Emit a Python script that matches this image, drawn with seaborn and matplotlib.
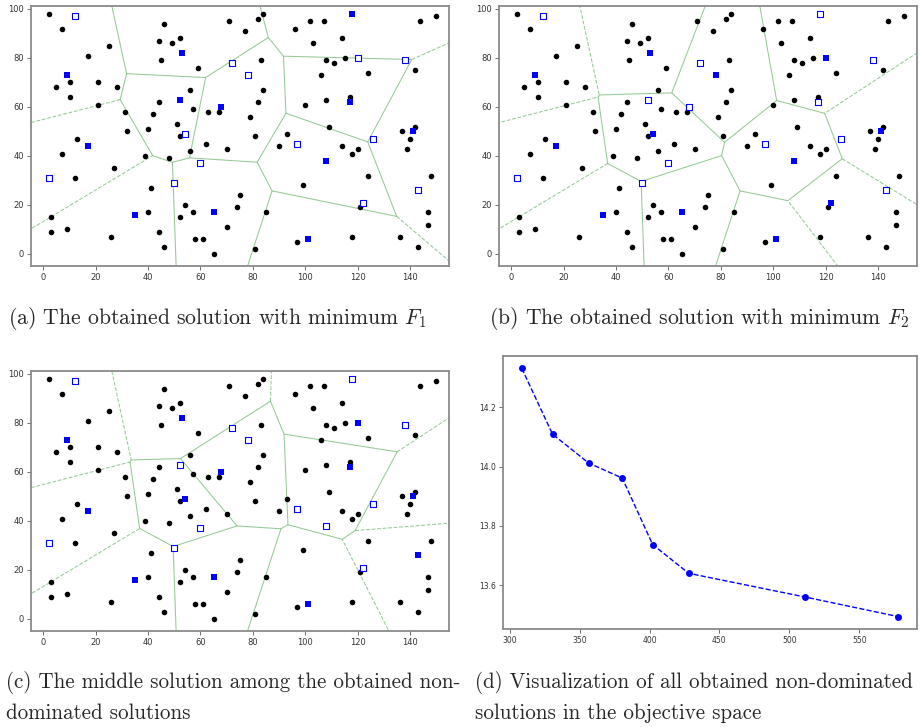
import numpy as np
import pandas as pd
import matplotlib
matplotlib.use("Agg")
import matplotlib.pyplot as plt
from matplotlib.collections import LineCollection
import seaborn as sns

# ---------------- data ----------------
cust_x = [2, 7, 25, 46, 44, 49, 52, 45, 59, 17,
          5, 10, 10, 21, 28, 21, 31, 32, 13, 7,
          27, 12, 3, 3, 9, 26, 44, 42, 40, 51,
          52, 56, 57, 56, 39, 48, 41, 40, 54, 57,
          52, 44, 46, 58, 61, 65, 63, 67, 62, 70,
          70, 71,
          82, 84, 77, 96, 102, 107, 103, 114, 144, 150,
          83, 108, 111, 115, 106, 124, 142, 84, 82, 79,
          100, 108, 117, 109, 81, 93, 90, 114, 120, 118,
          124, 99, 75, 74, 85, 121, 137, 142, 140, 139,
          148, 147, 147, 97, 118, 136, 143, 81]
cust_y = [98, 92, 85, 94, 87, 86, 88, 79, 76, 81,
          68, 70, 64, 70, 68, 61, 58, 50, 47, 41,
          35, 31, 15, 9, 10, 7, 62, 57, 51, 53,
          48, 67, 59, 42, 40, 39, 27, 17, 20, 17,
          15, 9, 3, 6, 6, 0, 58, 58, 45, 43,
          11, 95,
          96, 98, 91, 92, 95, 95, 86, 88, 95, 97,
          79, 79, 78, 80, 73, 74, 75, 67, 62, 56,
          61, 63, 64, 52, 48, 49, 44, 44, 43, 41,
          32, 28, 24, 19, 17, 19, 50, 52, 47, 43,
          32, 17, 12, 5, 7, 7, 3, 2]

fac_x = [53, 9, 52, 68, 17, 35, 65, 118, 117, 108, 141, 101,
         12, 2, 50, 54, 60, 72, 78, 120, 138, 97, 126, 143, 122]
fac_y = [82, 73, 63, 60, 44, 16, 17, 98, 62, 38, 50, 6,
         97, 31, 29, 49, 37, 78, 73, 80, 79, 45, 47, 26, 21]

# 1 = opened facility (filled square), 0 = closed (hollow square)
open_a = [1, 1, 1, 1, 1, 1, 1, 1, 1, 1, 1, 1,
          0, 0, 0, 0, 0, 0, 0, 0, 0, 0, 0, 0, 0]
open_b = [1, 1, 0, 0, 1, 1, 1, 0, 0, 1, 1, 1,
          0, 0, 0, 1, 0, 0, 1, 1, 0, 0, 0, 0, 1]
open_c = [1, 1, 0, 1, 1, 1, 1, 0, 1, 0, 1, 1,
          0, 0, 0, 1, 0, 0, 0, 1, 0, 0, 0, 1, 0]

f1_vals = [308.6, 330.6, 356.4, 380.5, 402.2, 428.0, 511.3, 577.9]
f2_vals = [14.331, 14.109, 14.012, 13.961, 13.737, 13.640, 13.560, 13.494]

captions = [
    [r"(a) The obtained solution with minimum $F_1$"],
    [r"(b) The obtained solution with minimum $F_2$"],
    ["(c) The middle solution among the obtained non-", "dominated solutions"],
    ["(d) Visualization of all obtained non-dominated", "solutions in the objective space"],
]

# ---------------- style ----------------
sns.set_style("white")
plt.rcParams["font.family"] = ["DejaVu Sans"]
plt.rcParams["mathtext.fontset"] = "cm"

W, H = 921, 727
fig = plt.figure(figsize=(W / 100, H / 100), dpi=100)


def px_axes(left, top, right, bottom):
    return fig.add_axes([left / W, 1 - bottom / H, (right - left) / W, (bottom - top) / H])


def style_axes(ax, fs):
    for s in ax.spines.values():
        s.set_color("#8a8a8a")
        s.set_linewidth(1.3)
    ax.tick_params(axis="both", which="both", labelsize=fs, length=3, width=0.6,
                   color="#555555", labelcolor="#333333", pad=2,
                   bottom=True, left=True)


def voronoi_ridges(px, py):
    P = np.column_stack([px, py]).astype(float)
    n = len(P)
    segs_fin, segs_inf = [], []
    for i in range(n):
        for j in range(i + 1, n):
            pi, pj = P[i], P[j]
            m = (pi + pj) / 2.0
            v = pj - pi
            d = np.array([-v[1], v[0]])
            d /= np.linalg.norm(d)
            lo, hi = -np.inf, np.inf
            ok = True
            for k in range(n):
                if k == i or k == j:
                    continue
                w = P[k] - pi
                a = 2 * d.dot(w)
                b = P[k].dot(P[k]) - pi.dot(pi) - 2 * m.dot(w)
                if abs(a) < 1e-12:
                    if b < 0:
                        ok = False
                        break
                elif a > 0:
                    hi = min(hi, b / a)
                else:
                    lo = max(lo, b / a)
            if not ok or hi - lo <= 1e-9:
                continue
            finite = np.isfinite(lo) and np.isfinite(hi)
            lo_ = lo if np.isfinite(lo) else -2000
            hi_ = hi if np.isfinite(hi) else 2000
            seg = [m + lo_ * d, m + hi_ * d]
            (segs_fin if finite else segs_inf).append(seg)
    return segs_fin, segs_inf


def draw_solution(ax, status):
    st = np.array(status)
    fx = np.array(fac_x)
    fy = np.array(fac_y)
    fin, inf = voronoi_ridges(fx[st == 1], fy[st == 1])
    ax.add_collection(LineCollection(fin, colors="green", alpha=0.42,
                                     linewidths=0.75, zorder=1))
    ax.add_collection(LineCollection(inf, colors="green", alpha=0.42,
                                     linewidths=0.75, linestyles="dashed", zorder=1))
    sns.scatterplot(x=cust_x, y=cust_y, ax=ax, color="black", s=16,
                    linewidth=0, zorder=3)
    sns.scatterplot(x=fx[st == 1], y=fy[st == 1], ax=ax, marker="s",
                    color="blue", s=18, linewidth=0, zorder=4)
    sns.scatterplot(x=fx[st == 0], y=fy[st == 0], ax=ax, marker="s",
                    facecolor="white", edgecolor="blue", s=14,
                    linewidth=0.8, zorder=4)
    ax.set_xlim(-4.7, 154.9)
    ax.set_ylim(-4.9, 101.2)
    ax.set_xticks(np.arange(0, 141, 20))
    ax.set_yticks(np.arange(0, 101, 20))
    style_axes(ax, 6)


ax_a = px_axes(31, 6, 449, 266)
draw_solution(ax_a, open_a)
ax_b = px_axes(499, 6, 917, 266)
draw_solution(ax_b, open_b)
ax_c = px_axes(31, 371, 449, 631)
draw_solution(ax_c, open_c)

ax_d = px_axes(503, 356, 917, 629)
df = pd.DataFrame({"F1": f1_vals, "F2": f2_vals})
sns.lineplot(data=df, x="F1", y="F2", ax=ax_d, color="blue", linestyle="--",
             linewidth=1.0, marker="o", markersize=5, markeredgewidth=0,
             sort=False)
ax_d.set_xlabel("")
ax_d.set_ylabel("")
ax_d.set_xticks([300, 350, 400, 450, 500, 550])
ax_d.set_yticks([13.6, 13.8, 14.0, 14.2])
style_axes(ax_d, 5.5)

cap_pos = [(8, 318), (489, 318), (6, 683), (475, 683)]
cap_size = [15.6, 15.6, 15.1, 15.1]
for (x0, y0), fs, lines in zip(cap_pos, cap_size, captions):
    for li, t in enumerate(lines):
        fig.text(x0 / W, 1 - (y0 + 30 * li) / H, t, family="cmr10",
                 fontsize=fs, ha="left", va="center")

fig.savefig("out.png", dpi=100)
